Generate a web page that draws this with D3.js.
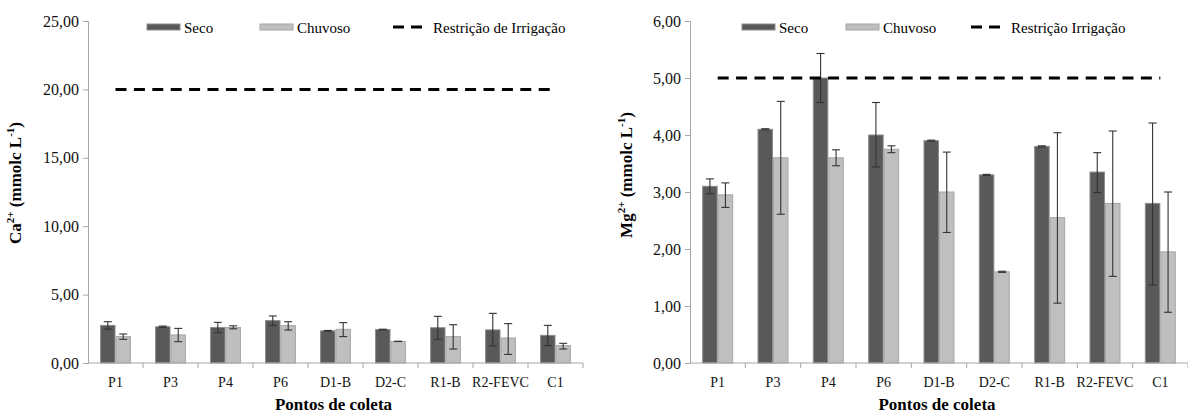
<!DOCTYPE html>
<html>
<head>
<meta charset="utf-8">
<script src="https://cdn.jsdelivr.net/npm/d3@7"></script>
</head>
<body style="margin:0">
<svg id="chart" width="1188" height="415"></svg>
<script>
// Collection points
const categories = ["P1", "P3", "P4", "P6", "D1-B", "D2-C", "R1-B", "R2-FEVC", "C1"];
const seriesNames = ["Seco", "Chuvoso"];

// Calcium (mmolc L-1): means and error bar ends
const caSeco        = [2.75, 2.65, 2.60, 3.10, 2.35, 2.45, 2.58, 2.42, 2.02];
const caSecoLow     = [2.48, 2.60, 2.22, 2.74, 2.32, 2.43, 1.73, 1.24, 1.27];
const caSecoHigh    = [3.02, 2.70, 2.97, 3.44, 2.38, 2.47, 3.41, 3.63, 2.75];
const caChuvoso     = [1.93, 2.05, 2.60, 2.74, 2.46, 1.58, 1.93, 1.83, 1.27];
const caChuvosoLow  = [1.73, 1.56, 2.50, 2.41, 1.93, 1.57, 1.02, 0.63, 1.02];
const caChuvosoHigh = [2.12, 2.53, 2.72, 3.02, 2.95, 1.59, 2.80, 2.88, 1.44];
const caLimit = 20;
const caTicks = [0, 5, 10, 15, 20, 25];

// Magnesium (mmolc L-1): means and error bar ends
const mgSeco        = [3.10, 4.10, 5.00, 4.00, 3.90, 3.30, 3.80, 3.35, 2.80];
const mgSecoLow     = [2.97, 4.09, 4.57, 3.44, 3.89, 3.29, 3.79, 2.99, 1.37];
const mgSecoHigh    = [3.23, 4.11, 5.43, 4.57, 3.91, 3.31, 3.81, 3.69, 4.21];
const mgChuvoso     = [2.95, 3.60, 3.60, 3.75, 3.00, 1.60, 2.55, 2.80, 1.95];
const mgChuvosoLow  = [2.73, 2.61, 3.46, 3.69, 2.29, 1.59, 1.05, 1.52, 0.89];
const mgChuvosoHigh = [3.16, 4.59, 3.74, 3.81, 3.70, 1.61, 4.04, 4.07, 3.00];
const mgLimit = 5;
const mgTicks = [0, 1, 2, 3, 4, 5, 6];

const FONT = "'Liberation Serif'";

// make sure the serif face is resolved before any text is laid out
const ctx = document.createElement("canvas").getContext("2d");
["", "bold "].forEach(w => {
  ctx.font = `${w}16px ${FONT}, monospace`;
  ctx.measureText("Restrição 0123456789 Pontos de coleta");
});

const svg = d3.select("#chart");
const fmt = v => d3.format(".2f")(v).replace(".", ",");
const colors = { Seco: "#595959", Chuvoso: "#bfbfbf" };
const strokes = { Seco: "#8c8c8c", Chuvoso: "#a6a6a6" };
const axisColor = "#a6a6a6";

function drawPanel(p) {
  const g = svg.append("g");
  const x = d3.scaleBand().domain(categories).range([p.left, p.right]);
  const xs = d3.scaleBand().domain(seriesNames)
    .range([x.bandwidth() * 0.22, x.bandwidth() * 0.78]);
  const y = d3.scaleLinear().domain([0, p.max]).range([p.bottom, p.top]);

  // y axis
  const yAxis = g.append("g").attr("transform", `translate(${p.left},0)`)
    .call(d3.axisLeft(y).tickValues(p.ticks).tickFormat(fmt).tickSize(5).tickPadding(4));
  yAxis.attr("font-family", FONT);
  yAxis.selectAll("path, line").attr("stroke", axisColor);
  yAxis.selectAll("text").attr("font-family", FONT).attr("font-size", 16).attr("fill", "#111");

  // bars
  const rows = categories.map((c, i) => ({
    c,
    vals: [
      { s: "Seco", v: p.seco[i], lo: p.secoLow[i], hi: p.secoHigh[i] },
      { s: "Chuvoso", v: p.chuv[i], lo: p.chuvLow[i], hi: p.chuvHigh[i] }
    ]
  }));
  const grp = g.selectAll(".cat").data(rows).join("g")
    .attr("transform", d => `translate(${x(d.c)},0)`);
  grp.selectAll("rect").data(d => d.vals).join("rect")
    .attr("x", d => xs(d.s) + 0.5)
    .attr("width", xs.bandwidth() - 1)
    .attr("y", d => y(d.v))
    .attr("height", d => y(0) - y(d.v))
    .attr("fill", d => colors[d.s])
    .attr("stroke", d => strokes[d.s])
    .attr("stroke-width", 1);

  // error bars
  const eb = grp.selectAll(".eb").data(d => d.vals).join("g")
    .attr("transform", d => `translate(${xs(d.s) + xs.bandwidth() / 2},0)`)
    .attr("stroke", "#333").attr("stroke-width", 1.1);
  eb.append("line").attr("y1", d => y(d.lo)).attr("y2", d => y(d.hi));
  eb.append("line").attr("x1", -4).attr("x2", 4).attr("y1", d => y(d.lo)).attr("y2", d => y(d.lo));
  eb.append("line").attr("x1", -4).attr("x2", 4).attr("y1", d => y(d.hi)).attr("y2", d => y(d.hi));

  // x axis with ticks on category boundaries
  const xAxisG = g.append("g").attr("transform", `translate(0,${p.bottom})`);
  xAxisG.append("line").attr("x1", p.left).attr("x2", p.right)
    .attr("stroke", axisColor);
  xAxisG.selectAll(".tk").data(categories).join("line")
    .attr("x1", (d, i) => p.left + (i + 1) * x.bandwidth())
    .attr("x2", (d, i) => p.left + (i + 1) * x.bandwidth())
    .attr("y1", 0).attr("y2", 5).attr("stroke", axisColor);
  xAxisG.selectAll(".lbl").data(categories).join("text")
    .attr("x", d => x(d) + x.bandwidth() / 2)
    .attr("y", 24).attr("text-anchor", "middle")
    .attr("font-family", FONT).attr("font-size", 14).attr("fill", "#111").text(d => d);

  // irrigation restriction line
  g.append("line")
    .attr("x1", x(categories[0]) + x.bandwidth() / 2)
    .attr("x2", x(categories[categories.length - 1]) + x.bandwidth() / 2)
    .attr("y1", y(p.limit)).attr("y2", y(p.limit))
    .attr("stroke", "#000").attr("stroke-width", 3)
    .attr("stroke-dasharray", "11,7.4");

  // axis titles
  g.append("text")
    .attr("x", (p.left + p.right) / 2 - 2).attr("y", 410)
    .attr("text-anchor", "middle").attr("font-family", FONT)
    .attr("font-weight", "bold").attr("font-size", 17)
    .text("Pontos de coleta");

  const yt = g.append("text")
    .attr("transform", `translate(${p.ytX},${p.ytY}) rotate(-90)`)
    .attr("text-anchor", "middle").attr("font-family", FONT)
    .attr("font-weight", "bold").attr("font-size", 17);
  yt.append("tspan").text(p.ion);
  yt.append("tspan").attr("font-size", 11).attr("dy", -7).text("2+");
  yt.append("tspan").attr("dy", 7).text(" (mmolc L");
  yt.append("tspan").attr("font-size", 11).attr("dy", -7).text("-1");
  yt.append("tspan").attr("dy", 7).text(")");

  // legend
  const lg = g.append("g");
  p.legend.forEach(item => {
    if (item.type === "bar") {
      lg.append("rect").attr("x", item.x).attr("y", 24).attr("width", 33).attr("height", 6)
        .attr("fill", colors[item.name]).attr("stroke", strokes[item.name]);
      lg.append("text").attr("x", item.x + 37).attr("y", 33)
        .attr("font-family", FONT).attr("font-size", 15).text(item.name);
    } else {
      lg.append("line").attr("x1", item.x).attr("x2", item.x + 29)
        .attr("y1", 27).attr("y2", 27).attr("stroke", "#000").attr("stroke-width", 3)
        .attr("stroke-dasharray", "11,7");
      lg.append("text").attr("x", item.x + 40).attr("y", 33)
        .attr("font-family", FONT).attr("font-size", 15).text(item.name);
    }
  });
}

drawPanel({
  left: 88, right: 583, top: 21, bottom: 363, max: 25, ticks: caTicks,
  seco: caSeco, secoLow: caSecoLow, secoHigh: caSecoHigh,
  chuv: caChuvoso, chuvLow: caChuvosoLow, chuvHigh: caChuvosoHigh,
  limit: caLimit, ion: "Ca", ytX: 21, ytY: 183,
  legend: [
    { type: "bar", name: "Seco", x: 147 },
    { type: "bar", name: "Chuvoso", x: 260 },
    { type: "line", name: "Restrição de Irrigação", x: 393 }
  ]
});

drawPanel({
  left: 690, right: 1188, top: 21, bottom: 363, max: 6, ticks: mgTicks,
  seco: mgSeco, secoLow: mgSecoLow, secoHigh: mgSecoHigh,
  chuv: mgChuvoso, chuvLow: mgChuvosoLow, chuvHigh: mgChuvosoHigh,
  limit: mgLimit, ion: "Mg", ytX: 632, ytY: 175,
  legend: [
    { type: "bar", name: "Seco", x: 742 },
    { type: "bar", name: "Chuvoso", x: 846 },
    { type: "line", name: "Restrição Irrigação", x: 971 }
  ]
});
</script>
</body>
</html>
